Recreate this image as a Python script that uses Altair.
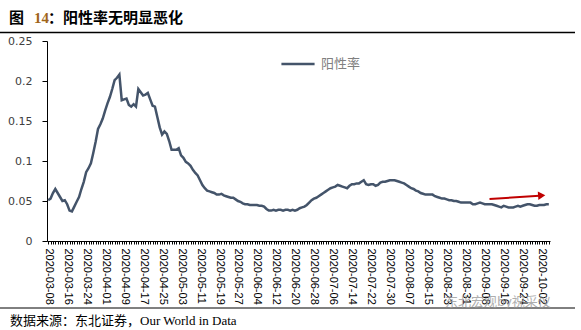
import altair as alt
import pandas as pd

# ---- data ----
start_date = "2020-03-08"
positivity = [
    0.051, 0.053, 0.060, 0.065, 0.060, 0.055, 0.050, 0.051, 0.046, 0.038,
    0.037, 0.043, 0.049, 0.055, 0.065, 0.074, 0.086, 0.091, 0.097, 0.110,
    0.124, 0.140, 0.146, 0.153, 0.163, 0.172, 0.180, 0.190, 0.201, 0.204,
    0.208, 0.176, 0.177, 0.178, 0.170, 0.168, 0.171, 0.168, 0.190, 0.186,
    0.182, 0.183, 0.185, 0.177, 0.169, 0.168, 0.155, 0.142, 0.133, 0.137,
    0.134, 0.125, 0.114, 0.114, 0.114, 0.116, 0.107, 0.104, 0.099, 0.097,
    0.094, 0.089, 0.085, 0.082, 0.076, 0.070, 0.066, 0.063, 0.062, 0.061,
    0.060, 0.058, 0.058, 0.059, 0.057, 0.056, 0.055, 0.054, 0.054, 0.052,
    0.050, 0.049, 0.047, 0.046, 0.046, 0.045, 0.045, 0.045, 0.045, 0.044,
    0.044, 0.043, 0.040, 0.038, 0.038, 0.039, 0.038, 0.039, 0.039, 0.038,
    0.039, 0.039, 0.038, 0.039, 0.038, 0.039, 0.041, 0.042, 0.043, 0.045,
    0.048, 0.051, 0.053, 0.054, 0.056, 0.058, 0.060, 0.062, 0.064, 0.066,
    0.067, 0.068, 0.070, 0.069, 0.068, 0.067, 0.066, 0.069, 0.071, 0.071,
    0.072, 0.072, 0.074, 0.076, 0.071, 0.070, 0.071, 0.071, 0.069, 0.070,
    0.073, 0.074, 0.074, 0.075, 0.076, 0.076, 0.076, 0.075, 0.074, 0.073,
    0.072, 0.070, 0.068, 0.066, 0.065, 0.063, 0.062, 0.060, 0.059, 0.058,
    0.058, 0.058, 0.058, 0.056, 0.055, 0.054, 0.053, 0.053, 0.052, 0.051,
    0.051, 0.050, 0.050, 0.049, 0.048, 0.048, 0.048, 0.048, 0.048, 0.046,
    0.046, 0.047, 0.048, 0.047, 0.046, 0.046, 0.046, 0.046, 0.045, 0.044,
    0.043, 0.042, 0.044, 0.043, 0.042, 0.042, 0.042, 0.043, 0.044, 0.043,
    0.044, 0.045, 0.046, 0.046, 0.045, 0.044, 0.044, 0.045, 0.045, 0.045,
    0.046, 0.046,
]
dates = [d.strftime("%Y-%m-%d") for d in pd.date_range(start_date, periods=len(positivity), freq="D")]
label_dates = dates[::8][:27]
y_ticks = [0, 0.05, 0.1, 0.15, 0.2, 0.25]
series_name = "阳性率"

arrow_from = ["2020-09-10", 0.0525]
arrow_to = ["2020-10-01", 0.0566]
arrow_head = ["2020-10-02", 0.0569]

title_parts = ["图", "14", "：阳性率无明显恶化"]
source_text = "数据来源：东北证券，Our World in Data"
watermark = "东北宏观by祝采仪"

df = pd.DataFrame({"date": dates, "value": positivity, "series": series_name})

LINE = "#44546A"
W, H = 503, 200

label_list = "[" + ",".join("'%s'" % d for d in label_dates) + "]"

x_enc = alt.X(
    "date:O",
    scale=alt.Scale(type="point", padding=0.5, domain=dates),
    axis=alt.Axis(
        title=None,
        labelExpr="indexof(%s, datum.value) >= 0 ? datum.value : ''" % label_list,
        labelAngle=90,
        labelOverlap=False,
        labelFont="Liberation Sans",
        labelFontSize=11,
        labelColor="#000000",
        labelPadding=4,
        tickSize=3,
        tickColor="#000000",
        domainColor="#000000",
        grid=False,
    ),
)
y_enc = alt.Y(
    "value:Q",
    scale=alt.Scale(domain=[0, 0.25], nice=False, zero=True),
    axis=alt.Axis(
        title=None,
        values=y_ticks,
        labelExpr="format(datum.value, '.2~f')",
        labelOverlap=False,
        labelFont="DejaVu Sans",
        labelFontSize=11,
        labelColor="#404040",
        labelPadding=10,
        tickSize=5,
        tickColor="#000000",
        domainColor="#000000",
        grid=False,
    ),
)

line = alt.Chart(df).mark_line(strokeWidth=2.5).encode(
    x=x_enc,
    y=y_enc,
    color=alt.Color(
        "series:N",
        scale=alt.Scale(range=[LINE]),
        legend=alt.Legend(
            orient="none",
            legendX=233,
            legendY=5,
            title=None,
            symbolType="stroke",
            symbolSize=1100,
            symbolStrokeWidth=2.5,
            labelFont="Noto Sans CJK SC",
            labelFontSize=13,
            labelColor="#808080",
            labelOffset=5,
        ),
    ),
)

arrow_df = pd.DataFrame({
    "date": [arrow_from[0]], "value": [arrow_from[1]],
    "date2": [arrow_to[0]], "value2": [arrow_to[1]],
})
arrow = alt.Chart(arrow_df).mark_rule(color="#C00000", strokeWidth=2).encode(
    x=x_enc, y=y_enc, x2="date2:O", y2="value2:Q"
)
head_df = pd.DataFrame({"date": [arrow_head[0]], "value": [arrow_head[1]]})
head = alt.Chart(head_df).mark_point(
    shape="triangle-right", filled=True, color="#C00000", size=70, angle=356, opacity=1
).encode(x=x_enc, y=y_enc)

one = pd.DataFrame({"a": [0]})

def txt(text, x, y, **kw):
    return alt.Chart(one).mark_text(text=text, align="left", baseline="middle", **kw).encode(
        x=alt.value(x), y=alt.value(y)
    )

title1 = txt(title_parts[0], -38, -23, font="Noto Sans CJK SC", fontSize=15, fontWeight="bold", color="#000000")
title2 = txt(title_parts[1], -13, -23, font="Liberation Serif", fontSize=15, fontWeight="bold", color="#A0651A")
title3 = txt(title_parts[2], 1, -23, font="Noto Sans CJK SC", fontSize=15, fontWeight="bold", color="#000000")
src = txt(source_text, -37, 280, font="Liberation Serif, Noto Sans CJK SC", fontSize=13, color="#000000")
wm = txt(watermark, 398, 261, font="Noto Sans CJK SC", fontSize=13, color="#9a9a9a", opacity=0.8)

top_rule = alt.Chart(one).mark_rule(color="#000000", strokeWidth=1.5).encode(
    x=alt.value(-47), x2=alt.value(528), y=alt.value(-8.5)
)
bottom_rule = alt.Chart(one).mark_rule(color="#000000", strokeWidth=1).encode(
    x=alt.value(-47), x2=alt.value(528), y=alt.value(267)
)

chart = alt.layer(
    line, arrow, head, top_rule, bottom_rule, title1, title2, title3, src, wm
).properties(
    width=W,
    height=H,
    autosize=alt.AutoSizeParams(type="none"),
    padding={"left": 47, "top": 41, "right": 31, "bottom": 89},
    background="#ffffff",
).configure_view(stroke=None)

chart.save("out.html", embed_options={"renderer": "svg", "actions": False})
